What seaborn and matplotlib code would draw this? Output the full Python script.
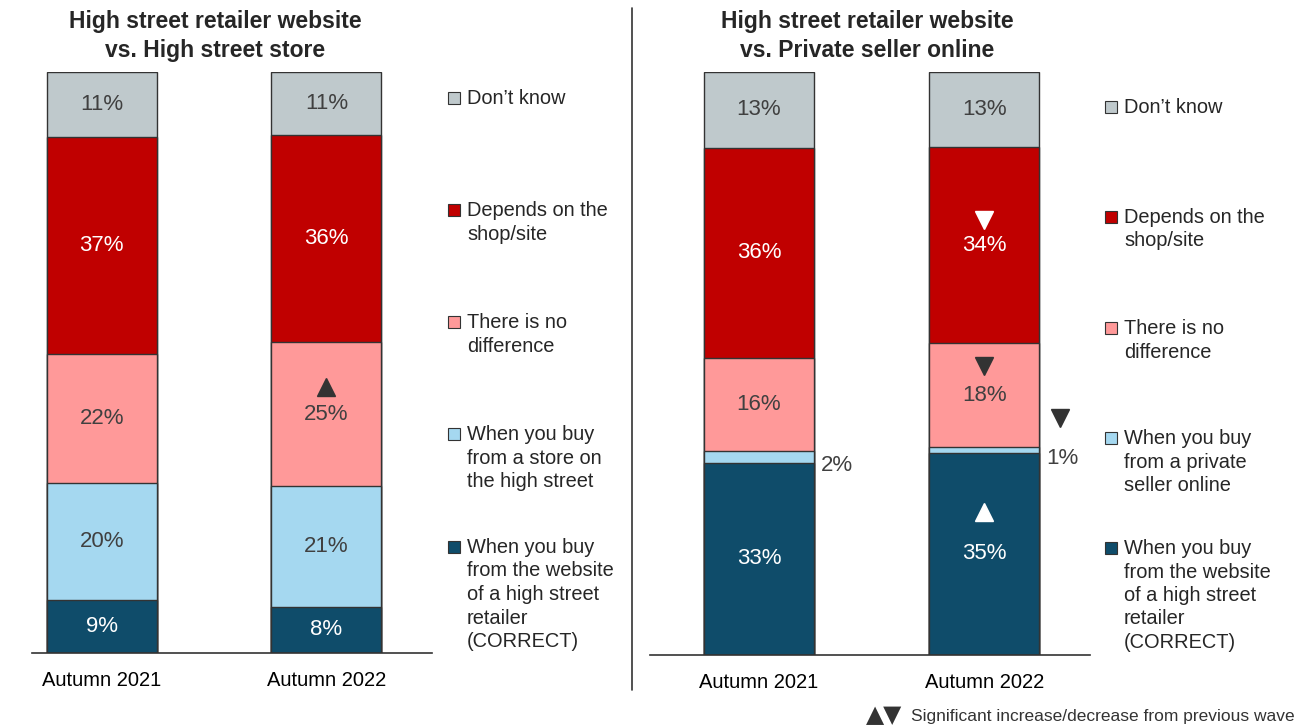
import numpy as np
import pandas as pd
import seaborn as sns
import matplotlib.pyplot as plt
from matplotlib.patches import Rectangle

# Data
periods = ["Autumn 2021", "Autumn 2022"]
segments = ["website", "other", "no_diff", "depends", "dont_know"]
colors = ["#0F4C6A", "#A5D8F0", "#FF9999", "#C00000", "#BFC9CC"]
text_colors = ["white", "#404040", "#404040", "white", "#404040"]

left_2021 = [9, 20, 22, 37, 11]
left_2022 = [8, 21, 25, 36, 11]
right_2021 = [33, 2, 16, 36, 13]
right_2022 = [35, 1, 18, 34, 13]

left_title = "High street retailer website\nvs. High street store"
right_title = "High street retailer website\nvs. Private seller online"

left_legend = ["When you buy\nfrom the website\nof a high street\nretailer\n(CORRECT)",
               "When you buy\nfrom a store on\nthe high street",
               "There is no\ndifference",
               "Depends on the\nshop/site",
               "Don\u2019t know"]
right_legend = ["When you buy\nfrom the website\nof a high street\nretailer\n(CORRECT)",
                "When you buy\nfrom a private\nseller online",
                "There is no\ndifference",
                "Depends on the\nshop/site",
                "Don\u2019t know"]
left_legend_y = [547, 434, 322, 210, 98]
right_legend_y = [548, 438, 328, 217, 107]

# significance markers: (panel, period index, segment index, direction, colour, dy in %, outside)
markers = [
    ("left", 1, 2, "^", "#333333", 4.7, False),
    ("right", 1, 3, "v", "white", 4.3, False),
    ("right", 1, 2, "v", "#333333", 5.0, False),
    ("right", 1, 1, "v", "#333333", 5.5, True),
    ("right", 1, 0, "^", "white", 7.2, False),
]

sns.set_style("white")
plt.rcParams["font.family"] = ["Liberation Sans", "DejaVu Sans"]

W, H = 1300, 726
fig = plt.figure(figsize=(13, 7.26), dpi=100)


def fx(x):
    return x / W


def fy(y):
    return 1 - y / H


def draw_panel(rect, xlim, vals, title, title_x, legend, legend_y, lx, panel):
    ax = fig.add_axes(rect)
    data = np.array(vals, dtype=float)
    norm = data / data.sum(axis=1, keepdims=True) * 100
    cum = np.cumsum(norm, axis=1)
    # draw cumulative totals from the top down so lower segments overlay
    for i in range(len(segments) - 1, -1, -1):
        df = pd.DataFrame({"period": periods, "value": cum[:, i]})
        sns.barplot(data=df, x="period", y="value", color=colors[i], saturation=1,
                    width=0.49, edgecolor="#333333", linewidth=1.0, ax=ax)
    ax.set_xlim(*xlim)
    ax.set_ylim(0, 100)
    ax.set_xlabel("")
    ax.set_ylabel("")
    ax.set_yticks([])
    for s in ["left", "right", "top"]:
        ax.spines[s].set_visible(False)
    ax.spines["bottom"].set_color("#333333")
    ax.spines["bottom"].set_linewidth(1.2)
    ax.tick_params(axis="x", length=0, labelsize=14.5, pad=13, colors="black")

    for p in range(len(periods)):
        for i in range(len(segments)):
            mid = cum[p, i] - norm[p, i] / 2
            label = f"{vals[p][i]}%"
            if vals[p][i] < 5:
                ax.text(p + 0.275, mid - 1.5, label, ha="left", va="center",
                        fontsize=16, color="#404040")
            else:
                ax.text(p, mid, label, ha="center", va="center",
                        fontsize=16, color=text_colors[i])

    for pn, p, i, m, c, dy, outside in markers:
        if pn != panel:
            continue
        mid = cum[p, i] - norm[p, i] / 2
        xm = p + 0.335 if outside else p
        ax.plot([xm], [mid + dy], marker=m, color=c, markersize=13,
                linestyle="none", clip_on=False)

    fig.text(fx(title_x), fy(36), title, ha="center", va="center",
             fontsize=16.5, fontweight="bold", color="#262626", linespacing=1.3)

    for txt, y, c in zip(legend, legend_y, colors):
        fig.patches.append(Rectangle((fx(lx - 6), fy(y + 6)), 12 / W, 12 / H,
                                     transform=fig.transFigure, facecolor=c,
                                     edgecolor="#333333", linewidth=0.8))
        fig.text(fx(lx + 13), fy(y - 9), txt, ha="left", va="top",
                 fontsize=14.4, color="#262626", linespacing=1.3)
    return ax


draw_panel([fx(32), fy(653), 400 / W, 581 / H], (-0.31, 1.47),
           [left_2021, left_2022], left_title, 215, left_legend,
           left_legend_y, 454, "left")
draw_panel([fx(650), fy(655), 440 / W, 583 / H], (-0.484, 1.47),
           [right_2021, right_2022], right_title, 867, right_legend,
           right_legend_y, 1111, "right")

# divider
fig.add_artist(plt.Line2D([fx(632), fx(632)], [fy(8), fy(690)],
                          transform=fig.transFigure, color="#333333", linewidth=1.2))

# footnote
fig.text(fx(884), fy(715), "\u25B2\u25BC", ha="center", va="center",
         fontsize=17, color="#333333", family="DejaVu Sans")
fig.text(fx(1295), fy(716), "Significant increase/decrease from previous wave",
         ha="right", va="center", fontsize=12.5, color="#333333")

fig.savefig("out.png", dpi=100)
